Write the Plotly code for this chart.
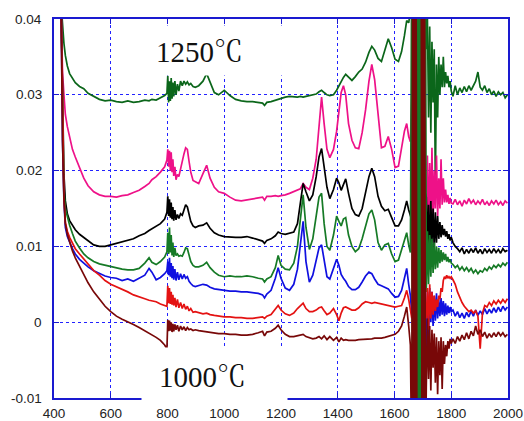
import plotly.graph_objects as go

wavenumber = [
    425, 430, 435, 440, 447, 455, 465, 475, 490, 505, 520, 540, 560, 580, 600, 620, 640, 660, 680, 700, 720, 735, 745, 760, 775, 790, 798,
    801, 804, 807, 810, 813, 816, 819, 822, 826, 830, 835, 840, 846, 852, 858, 864, 870, 876, 882, 890, 898,
    910, 925, 938, 950, 965, 980, 1000, 1020, 1040, 1060, 1080, 1100, 1120, 1135, 1142, 1150, 1165, 1180, 1190, 1200,
    1215, 1230, 1245, 1258, 1268, 1278, 1288, 1300, 1312, 1324, 1334, 1343, 1352, 1362, 1372, 1385, 1396, 1404, 1412,
    1420, 1428, 1438, 1450, 1462, 1474, 1486, 1498, 1510, 1520, 1530, 1542, 1554, 1566, 1578, 1590, 1602, 1614, 1625,
    1635, 1643, 1650, 1656,
    1661, 1664, 1667, 1670, 1673, 1676, 1679, 1682, 1685, 1688, 1691, 1694, 1697, 1700, 1703, 1706, 1709,
    1712, 1716, 1720, 1724, 1728, 1732, 1736, 1740, 1744, 1748, 1752, 1756, 1760, 1764, 1768, 1772, 1776, 1780, 1784, 1788, 1792, 1796, 1800,
    1806, 1814, 1822, 1830, 1838, 1846, 1854, 1862, 1870, 1878, 1886, 1894, 1902, 1910, 1918, 1926, 1934, 1942, 1950, 1958, 1966, 1974, 1982, 1990, 1998,
]

green_1250 = [
    0.042, 0.0385, 0.0368, 0.0352, 0.0338, 0.0328, 0.0322, 0.0316, 0.0311, 0.0308, 0.0302, 0.0298, 0.0294, 0.0292, 0.0293, 0.0291, 0.0290, 0.0292, 0.0290, 0.0291, 0.0293, 0.0292, 0.0294, 0.0293, 0.0296, 0.0299, 0.0302,
    0.0325, 0.0290, 0.0318, 0.0292, 0.0322, 0.0295, 0.0316, 0.0298, 0.0318, 0.0300, 0.0314, 0.0305, 0.0318, 0.0312, 0.0318, 0.0314, 0.0317, 0.0313, 0.0315, 0.0311, 0.0310,
    0.0312, 0.0318, 0.0328, 0.0316, 0.0303, 0.0300, 0.0306, 0.0299, 0.0294, 0.0292, 0.0291, 0.0291, 0.0290, 0.0289, 0.0286, 0.0290, 0.0291, 0.0293, 0.0294, 0.0296,
    0.0297, 0.0298, 0.0297, 0.0297, 0.0298, 0.0297, 0.0298, 0.0299, 0.0300, 0.0301, 0.0304, 0.0306, 0.0303, 0.0300, 0.0299, 0.0300, 0.0306, 0.0312, 0.0317,
    0.0323, 0.0327, 0.0323, 0.0319, 0.0324, 0.0330, 0.0334, 0.0343, 0.0356, 0.0364, 0.0359, 0.0348, 0.0344, 0.0360, 0.0374, 0.0362, 0.0347, 0.0344, 0.0357,
    0.0378, 0.0398, 0.0395, 0.0410,
    0.045, -0.015, 0.045, -0.015, 0.045, -0.015, 0.045, -0.015, 0.045, -0.015, 0.045, -0.015, 0.045, -0.015, 0.045, -0.015, 0.045,
    0.036, 0.040, 0.027, 0.039, 0.025, 0.037, 0.029, 0.036, 0.018, 0.034, 0.027, 0.035, 0.030, 0.034, 0.031, 0.035, 0.031, 0.033, 0.0315, 0.0325, 0.031, 0.0318, 0.0305,
    0.0298, 0.0312, 0.0300, 0.0309, 0.0303, 0.0311, 0.0304, 0.0312, 0.0306, 0.0313, 0.0318, 0.0330, 0.0310, 0.0306, 0.0312, 0.0303, 0.0308, 0.0300, 0.0305, 0.0298, 0.0304, 0.0300, 0.0303, 0.0296, 0.0300,
]

pink = [
    0.042, 0.0330, 0.0300, 0.0274, 0.0258, 0.0244, 0.0228, 0.0218, 0.0205, 0.0190, 0.0180, 0.0172, 0.0168, 0.0166, 0.0166, 0.0165, 0.0167, 0.0168, 0.0171, 0.0174, 0.0179, 0.0183, 0.0188, 0.0192, 0.0198, 0.0205, 0.0214,
    0.0228, 0.0205, 0.0226, 0.0200, 0.0224, 0.0198, 0.0215, 0.0193, 0.0205, 0.0188, 0.0195, 0.0192, 0.0203, 0.0212, 0.0222, 0.0230, 0.0228, 0.0212, 0.0198, 0.0187, 0.0185,
    0.0183, 0.0196, 0.0207, 0.0190, 0.0178, 0.0172, 0.0170, 0.0165, 0.0161, 0.0160, 0.0161, 0.0162, 0.0164, 0.0165, 0.0161, 0.0166, 0.0166, 0.0167, 0.0166, 0.0167,
    0.0168, 0.0170, 0.0172, 0.0174, 0.0176, 0.0183, 0.0178, 0.0175, 0.0190, 0.0215, 0.0262, 0.0297, 0.0262, 0.0228, 0.0217, 0.0228, 0.0252, 0.0282, 0.0303,
    0.0312, 0.0300, 0.0262, 0.0240, 0.0230, 0.0229, 0.0250, 0.0280, 0.0318, 0.0340, 0.0320, 0.0270, 0.0230, 0.0232, 0.0245, 0.0228, 0.0204, 0.0206, 0.0228,
    0.0252, 0.0262, 0.0245, 0.0238,
    0.030, None, None, None, None, None, None, None, None, None, None, None, None, None, None, None, 0.012,
    0.013, 0.022, 0.012, 0.021, 0.014, 0.023, 0.013, 0.020, 0.015, 0.022, 0.014, 0.019, 0.015, 0.0215, 0.0155, 0.019, 0.0158, 0.0175, 0.0158, 0.0168, 0.0156, 0.0164, 0.0157,
    0.0156, 0.0162, 0.0155, 0.0160, 0.0153, 0.0161, 0.0156, 0.0163, 0.0157, 0.0161, 0.0155, 0.0160, 0.0156, 0.0162, 0.0155, 0.0159, 0.0154, 0.0160, 0.0156, 0.0161, 0.0155, 0.0159, 0.0154, 0.0160, 0.0157,
]

black = [
    0.042, 0.028, 0.0195, 0.0160, 0.0143, 0.0134, 0.0127, 0.0122, 0.0116, 0.0112, 0.0107, 0.0102, 0.0100, 0.0100, 0.0102, 0.0104, 0.0105, 0.0107, 0.0110, 0.0114, 0.0117, 0.0121, 0.0123, 0.0126, 0.0130, 0.0136, 0.0145,
    0.0166, 0.0140, 0.0162, 0.0138, 0.0158, 0.0136, 0.0152, 0.0134, 0.0148, 0.0135, 0.0142, 0.0137, 0.0143, 0.0141, 0.0148, 0.0155, 0.0152, 0.0140, 0.0133, 0.0127, 0.0125,
    0.0127, 0.0128, 0.0131, 0.0124, 0.0118, 0.0115, 0.0113, 0.0112, 0.0112, 0.0112, 0.0113, 0.0111, 0.0109, 0.0107, 0.0104, 0.0108, 0.0110, 0.0114, 0.0119, 0.0117,
    0.0116, 0.0117, 0.0119, 0.0130, 0.0160, 0.0183, 0.0172, 0.0160, 0.0168, 0.0192, 0.0218, 0.0229, 0.0205, 0.0178, 0.0163, 0.0175, 0.0190, 0.0184, 0.0174,
    0.0183, 0.0189, 0.0170, 0.0150, 0.0142, 0.0140, 0.0150, 0.0170, 0.0192, 0.0203, 0.0192, 0.0166, 0.0153, 0.0147, 0.0149, 0.0138, 0.0127, 0.0127, 0.0135,
    0.0148, 0.0160, 0.0148, 0.0140,
    0.0135, None, None, None, None, None, None, None, None, None, None, None, None, None, None, None, 0.017,
    0.0165, 0.010, 0.0155, 0.009, 0.016, 0.0105, 0.0150, 0.0095, 0.0145, 0.0105, 0.0140, 0.0110, 0.0132, 0.0112, 0.0128, 0.0115, 0.0123, 0.0113, 0.0120, 0.0110, 0.0116, 0.0108, 0.0112,
    0.0105, 0.0100, 0.0097, 0.0093, 0.0098, 0.0090, 0.0096, 0.0091, 0.0097, 0.0092, 0.0098, 0.0091, 0.0096, 0.0090, 0.0097, 0.0092, 0.0096, 0.0091, 0.0097, 0.0092, 0.0096, 0.0091, 0.0097, 0.0093, 0.0095,
]

green = [
    0.042, 0.026, 0.0175, 0.0150, 0.0138, 0.0128, 0.0117, 0.0107, 0.0098, 0.0090, 0.0085, 0.0080, 0.0077, 0.0075, 0.0073, 0.0072, 0.0070, 0.0069, 0.0069, 0.0071, 0.0078, 0.0085, 0.0079, 0.0076, 0.0080, 0.0086, 0.0093,
    0.0118, 0.0090, 0.0125, 0.0092, 0.0115, 0.0088, 0.0105, 0.0086, 0.0098, 0.0088, 0.0090, 0.0087, 0.0088, 0.0087, 0.0092, 0.0098, 0.0097, 0.0088, 0.0080, 0.0075, 0.0073,
    0.0073, 0.0075, 0.0079, 0.0072, 0.0066, 0.0062, 0.0060, 0.0061, 0.0060, 0.0060, 0.0061, 0.0060, 0.0058, 0.0057, 0.0053, 0.0057, 0.0060, 0.0072, 0.0088, 0.0075,
    0.0070, 0.0069, 0.0078, 0.0100, 0.0135, 0.0168, 0.0125, 0.0096, 0.0110, 0.0140, 0.0165, 0.0170, 0.0130, 0.0100, 0.0095, 0.0115, 0.0140, 0.0133, 0.0127,
    0.0136, 0.0138, 0.0115, 0.0100, 0.0093, 0.0097, 0.0110, 0.0128, 0.0143, 0.0148, 0.0135, 0.0105, 0.0095, 0.0102, 0.0104, 0.0090, 0.0080, 0.0082, 0.0095,
    0.0110, 0.0118, 0.0102, 0.0092,
    0.05, -0.02, 0.05, -0.02, 0.05, -0.02, 0.05, -0.02, 0.05, -0.02, 0.05, -0.02, 0.05, -0.02, 0.05, -0.02, 0.05,
    0.0040, 0.0120, 0.0050, 0.0115, 0.0060, 0.0110, 0.0065, 0.0105, 0.0070, 0.0100, 0.0072, 0.0098, 0.0078, 0.0095, 0.0080, 0.0092, 0.0082, 0.0090, 0.0080, 0.0086, 0.0079, 0.0083, 0.0078,
    0.0076, 0.0072, 0.0075, 0.0069, 0.0073, 0.0068, 0.0072, 0.0067, 0.0071, 0.0065, 0.0069, 0.0064, 0.0068, 0.0066, 0.0071, 0.0068, 0.0073, 0.0070, 0.0075, 0.0072, 0.0076, 0.0073, 0.0078, 0.0075, 0.0079,
]

blue = [
    0.042, 0.024, 0.016, 0.0125, 0.0113, 0.0105, 0.0097, 0.0090, 0.0083, 0.0078, 0.0073, 0.0068, 0.0064, 0.0061, 0.0059, 0.0058, 0.0055, 0.0057, 0.0054, 0.0058, 0.0062, 0.0071, 0.0066, 0.0056, 0.0059, 0.0064, 0.0068,
    0.0080, 0.0062, 0.0085, 0.0060, 0.0078, 0.0058, 0.0074, 0.0056, 0.0070, 0.0055, 0.0066, 0.0056, 0.0064, 0.0057, 0.0063, 0.0058, 0.0060, 0.0054, 0.0051, 0.0048, 0.0047,
    0.0048, 0.0050, 0.0049, 0.0046, 0.0044, 0.0043, 0.0042, 0.0041, 0.0041, 0.0040, 0.0040, 0.0039, 0.0038, 0.0036, 0.0032, 0.0037, 0.0042, 0.0058, 0.0072, 0.0058,
    0.0045, 0.0042, 0.0050, 0.0070, 0.0105, 0.0133, 0.0080, 0.0053, 0.0062, 0.0080, 0.0098, 0.0102, 0.0080, 0.0060, 0.0057, 0.0070, 0.0083, 0.0075, 0.0063,
    0.0058, 0.0054, 0.0047, 0.0043, 0.0043, 0.0046, 0.0053, 0.0061, 0.0066, 0.0064, 0.0057, 0.0050, 0.0048, 0.0046, 0.0044, 0.0038, 0.0033, 0.0034, 0.0042,
    0.0058, 0.0071, 0.0050, 0.0035,
    0.0010, None, None, None, None, None, None, None, None, None, None, None, None, None, None, None, -0.003,
    -0.004, 0.004, -0.002, 0.0045, 0.000, 0.0040, -0.0005, 0.0035, 0.0002, 0.0038, 0.0005, 0.0030, 0.0008, 0.0032, 0.0010, 0.0028, 0.0008, 0.0025, 0.0010, 0.0022, 0.0012, 0.0020, 0.0014,
    0.0016, 0.0008, 0.0014, 0.0006, 0.0012, 0.0005, 0.0013, 0.0007, 0.0015, 0.0008, 0.0016, 0.0009, 0.0015, 0.0010, 0.0018, 0.0011, 0.0017, 0.0012, 0.0019, 0.0013, 0.0020, 0.0014, 0.0021, 0.0016, 0.0020,
]

red = [
    0.042, 0.025, 0.0165, 0.0132, 0.0120, 0.0112, 0.0104, 0.0097, 0.0090, 0.0083, 0.0077, 0.0068, 0.0062, 0.0055, 0.0050, 0.0047, 0.0043, 0.0040, 0.0036, 0.0033, 0.0031, 0.0029, 0.0028, 0.0027, 0.0024, 0.0022, 0.0021,
    0.0048, 0.0025, 0.0045, 0.0024, 0.0040, 0.0023, 0.0036, 0.0022, 0.0032, 0.0020, 0.0030, 0.0019, 0.0026, 0.0018, 0.0024, 0.0017, 0.0021, 0.0015, 0.0018, 0.0013, 0.0014,
    0.0013, 0.0011, 0.0012, 0.0010, 0.0009, 0.0008, 0.0007, 0.0007, 0.0006, 0.0006, 0.0005, 0.0005, 0.0006, 0.0007, 0.0005, 0.0008, 0.0010, 0.0017, 0.0022, 0.0016,
    0.0011, 0.0009, 0.0012, 0.0018, 0.0022, 0.0025, 0.0018, 0.0014, 0.0014, 0.0016, 0.0019, 0.0020, 0.0015, 0.0010, 0.0012, 0.0018, 0.0010, 0.0002, 0.0012,
    0.0019, 0.0020, 0.0018, 0.0016, 0.0016, 0.0019, 0.0024, 0.0027, 0.0026, 0.0025, 0.0026, 0.0025, 0.0024, 0.0023, 0.0022, 0.0021, 0.0020, 0.0021, 0.0022,
    0.0032, 0.0042, 0.0030, 0.0018,
    0.0005, None, None, None, None, None, None, None, None, None, None, None, None, None, None, None, 0.001,
    0.0005, 0.0045, -0.0010, 0.0050, 0.0005, 0.0040, 0.0010, 0.0035, 0.0015, 0.0030, 0.0020, 0.0035, 0.0030, 0.0045, 0.0040, 0.0055, 0.0060, 0.0057, 0.0062, 0.0058, 0.0060, 0.0058, 0.0060,
    0.0056, 0.0050, 0.0040, 0.0032, 0.0026, 0.0021, 0.0017, 0.0014, 0.0016, 0.0012, 0.0015, 0.0008, -0.0035, 0.0012, 0.0022, 0.0020, 0.0026, 0.0022, 0.0028, 0.0024, 0.0029, 0.0025, 0.0030, 0.0026, 0.0031,
]

maroon = [
    0.042, 0.024, 0.0165, 0.0130, 0.0116, 0.0105, 0.0094, 0.0085, 0.0074, 0.0063, 0.0052, 0.0040, 0.0030, 0.0021, 0.0014, 0.0008, 0.0004, 0.0001, -0.0003, -0.0007, -0.0011, -0.0014, -0.0016, -0.0020, -0.0024, -0.0030, -0.0035,
    0.0003, -0.0012, 0.0002, -0.0011, 0.0000, -0.0013, -0.0002, -0.0012, -0.0003, -0.0010, -0.0004, -0.0012, -0.0005, -0.0010, -0.0006, -0.0011, -0.0007, -0.0010, -0.0009, -0.0011, -0.0010,
    -0.0011, -0.0012, -0.0013, -0.0014, -0.0015, -0.0015, -0.0015, -0.0016, -0.0016, -0.0017, -0.0017, -0.0016, -0.0014, -0.0012, -0.0018, -0.0013, -0.0012, -0.0008, -0.0004, -0.0010,
    -0.0016, -0.0019, -0.0019, -0.0018, -0.0017, -0.0016, -0.0019, -0.0021, -0.0022, -0.0021, -0.0019, -0.0022, -0.0018, -0.0023, -0.0019, -0.0024, -0.0020, -0.0026, -0.0021,
    -0.0024, -0.0023, -0.0024, -0.0024, -0.0024, -0.0023, -0.0023, -0.0022, -0.0022, -0.0022, -0.0021, -0.0021, -0.0021, -0.0020, -0.0019, -0.0018, -0.0016, -0.0012, -0.0005,
    0.0008, 0.0020, -0.0005, -0.0030,
    -0.02, 0.05, -0.02, 0.05, -0.02, 0.05, -0.02, None, None, None, None, 0.05, -0.02, 0.05, -0.02, 0.05, -0.02,
    -0.0085, 0.0005, -0.0075, -0.0005, -0.0090, -0.0010, -0.0060, -0.0015, -0.0080, -0.0020, -0.0095, -0.0025, -0.0070, -0.0020, -0.0088, -0.0025, -0.0055, -0.0030, -0.0045, -0.0025, -0.0035, -0.0022, -0.0028,
    -0.0022, -0.0028, -0.0019, -0.0025, -0.0017, -0.0023, -0.0014, -0.0022, -0.0012, -0.0018, -0.0005, -0.0016, -0.0010, -0.0019, -0.0013, -0.0021, -0.0015, -0.0020, -0.0014, -0.0019, -0.0013, -0.0018, -0.0014, -0.0019, -0.0016,
]

x_ticks = [400, 600, 800, 1000, 1200, 1400, 1600, 1800, 2000]
y_ticks = [-0.01, 0, 0.01, 0.02, 0.03, 0.04]
y_tick_labels = ["-0.01", "0", "0.01", "0.02", "0.03", "0.04"]

series = [
    ("1250", green_1250, "#0b661a"),
    ("s2", pink, "#ee1188"),
    ("s3", black, "#000000"),
    ("s4", green, "#167a26"),
    ("s5", blue, "#1010e0"),
    ("s6", red, "#e41212"),
    ("1000", maroon, "#780808"),
]

for name, ys, _ in series:
    assert len(ys) == len(wavenumber), (name, len(ys), len(wavenumber))

fig = go.Figure()
for name, ys, col in series:
    fig.add_trace(go.Scatter(x=wavenumber, y=ys, mode="lines", name=name,
                             line=dict(color=col, width=1.7), connectgaps=False))

axis_col = "#1a1ad0"
grid_col = "#2222ff"
tick_font = dict(family="Liberation Sans, Arial, sans-serif", size=13.5, color="#222222")
fig.update_xaxes(range=[400, 2000], tickvals=x_ticks, showgrid=True, gridcolor=grid_col,
                 griddash="dot", gridwidth=1, showline=True, linecolor=axis_col, linewidth=1.5,
                 mirror="ticks", ticks="inside", ticklen=5, tickcolor=axis_col, zeroline=False,
                 tickfont=tick_font, automargin=False, ticklabelstandoff=2)
fig.update_yaxes(range=[-0.01, 0.04], tickvals=y_ticks, showticklabels=False, showgrid=True,
                 gridcolor=grid_col, griddash="dot", gridwidth=1, showline=True, linecolor=axis_col,
                 linewidth=1.5, mirror="ticks", ticks="inside", ticklen=5, tickcolor=axis_col,
                 zeroline=False, automargin=False)

# y tick labels placed as text next to the left axis
y_label_annotations = [
    dict(x=0, y=v, xref="paper", yref="y", text=t, showarrow=False, xanchor="right",
         yanchor="middle", xshift=-10, font=tick_font)
    for v, t in zip(y_ticks, y_tick_labels)
]

label_font = dict(family="Liberation Serif, 'Noto Serif CJK JP', 'Noto Sans CJK JP', serif", size=29, color="#111111")
fig.update_layout(
    width=524, height=421,
    margin=dict(l=54, r=16, t=19, b=23),
    paper_bgcolor="white", plot_bgcolor="white", showlegend=False,
    annotations=y_label_annotations + [
        dict(x=965.6, y=0.0359, xref="x", yref="y", text="&nbsp;", showarrow=False,
             width=145, height=49, bgcolor="white", borderpad=0, xanchor="center", yanchor="middle"),
        dict(x=965.6, y=-0.00696, xref="x", yref="y", text="&nbsp;", showarrow=False,
             width=145, height=53, bgcolor="white", borderpad=0, xanchor="center", yanchor="middle"),
        dict(x=914.5, y=0.0357, xref="x", yref="y", text="1250℃", showarrow=False,
             font=label_font, xanchor="center", yanchor="middle"),
        dict(x=925, y=-0.00725, xref="x", yref="y", text="1000℃", showarrow=False,
             font=label_font, xanchor="center", yanchor="middle"),
    ],
)

fig.write_html("out.html", config={"displayModeBar": False},
               post_script="document.body.style.margin='0';document.body.style.overflow='hidden';")
